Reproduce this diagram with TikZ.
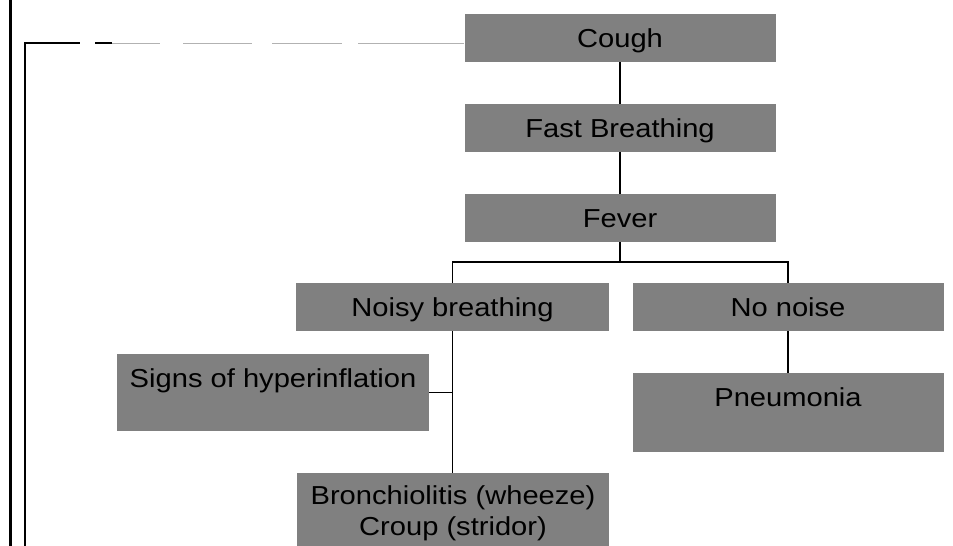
\documentclass[tikz,border=0pt]{standalone}
\usepackage{fontspec}
\newfontfamily\boxfont[FakeStretch=1.12]{Liberation Sans}

\begin{document}
\begin{tikzpicture}[x=1pt,y=-1pt,
  sym/.style={fill=gray, text=black, font=\boxfont\fontsize{26}{31}\selectfont,
    anchor=north, inner sep=0pt, minimum width=311pt, text height=33pt, text depth=15pt},
  link/.style={line width=1.2pt}]
\clip (0,0) rectangle (953,546);
% symptom boxes:
\node[sym] (cough) at (620,14) {Cough};
\node[sym] (fast) at (620,104) {Fast Breathing};
\node[sym] (fever) at (620,194) {Fever};
\node[sym, minimum width=313pt] (noisy) at (452.5,283) {Noisy breathing};
\node[sym] (nonoise) at (788,283) {No noise};
\node[sym, minimum width=312pt, text depth=44pt] (signs) at (273,354) {Signs of hyperinflation};
\node[sym, text depth=46pt] (pneu) at (788,373) {Pneumonia};
\node[sym, minimum width=312pt, text height={}, text depth={}, minimum height=80pt, align=center]
  (bronch) at (453,473) {Bronchiolitis (wheeze)\\Croup (stridor)};
% tree lines:
\coordinate (split) at (620,262);
\draw[link] (cough) -- (fast);
\draw[link] (fast) -- (fever);
\draw[link] (fever) -- (split);
\draw[link] (noisy.north) |- (split) -| (nonoise.north);
\draw[link] (noisy.south) -- (noisy.south |- bronch.north);
\draw[link] (signs.east) -- (signs.east -| noisy.south);
\draw[link] (nonoise) -- (pneu);
% frame on the left:
\coordinate (top) at (10,0);
\coordinate (bot) at (10,546);
\coordinate (corner) at (25,43);
\coordinate (foot) at (25,546);
\coordinate (gap1) at (80,43);
\coordinate (gap2) at (95,43);
\coordinate (fade) at (112,43);
\draw[line width=3pt] (top) -- (bot);
\draw[link] (foot) -- (corner) -- (gap1);
\draw[link] (gap2) -- (fade);
\draw[gray!60, line width=1pt, dash pattern=on 48pt off 23pt on 69pt off 20pt on 70pt off 16pt on 120pt]
  (fade) -- (fade -| cough.west);
\end{tikzpicture}
\end{document}
